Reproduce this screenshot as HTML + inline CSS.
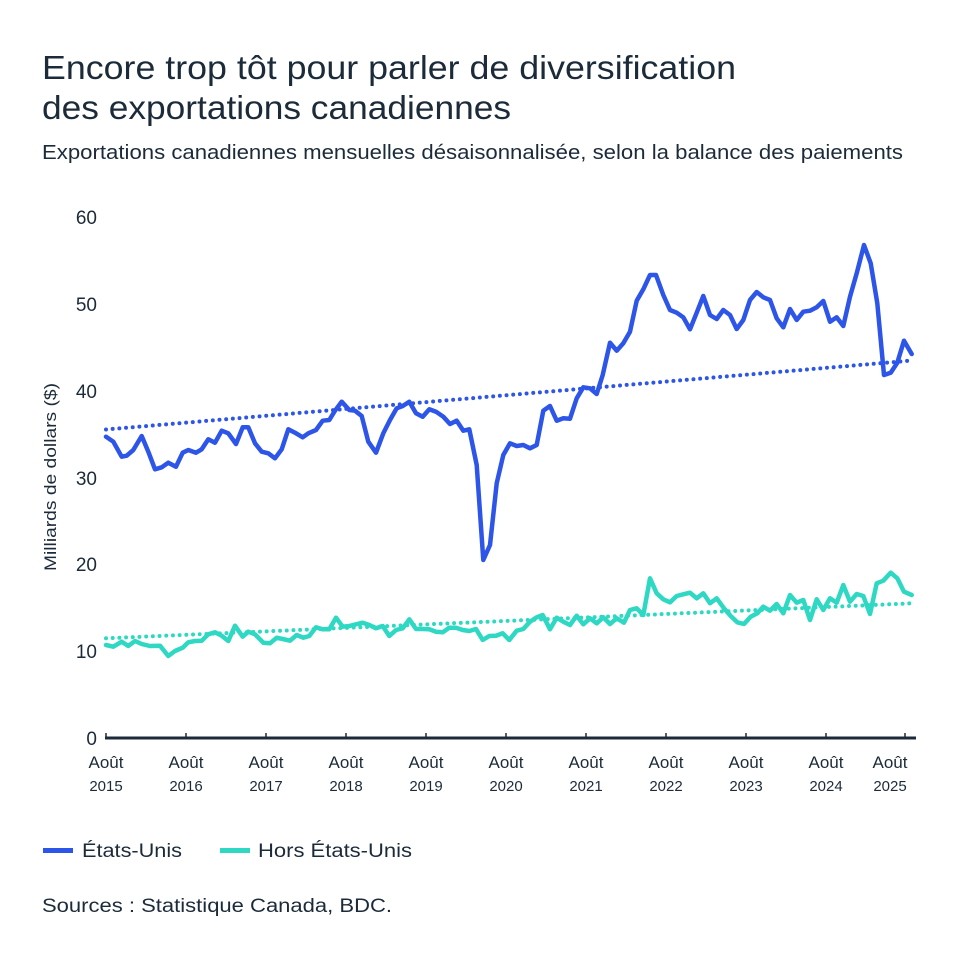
<!DOCTYPE html>
<html>
<head>
<meta charset="utf-8">
<style>
html,body{margin:0;padding:0;background:#fff;}
svg{display:block;}
text{font-family:"Liberation Sans",sans-serif;fill:#1c2b39;}
</style>
</head>
<body>
<svg width="960" height="960" viewBox="0 0 960 960" xmlns="http://www.w3.org/2000/svg">
<rect width="960" height="960" fill="#fff"/>
<!-- Titles -->
<text x="42" y="79" font-size="33" textLength="694" lengthAdjust="spacingAndGlyphs">Encore trop tôt pour parler de diversification</text>
<text x="42" y="119" font-size="33" textLength="469" lengthAdjust="spacingAndGlyphs">des exportations canadiennes</text>
<text x="42" y="159" font-size="20" textLength="861" lengthAdjust="spacingAndGlyphs">Exportations canadiennes mensuelles désaisonnalisée, selon la balance des paiements</text>

<!-- Y tick labels -->
<g font-size="19" text-anchor="end">
<text x="97" y="224">60</text>
<text x="97" y="311">50</text>
<text x="97" y="398">40</text>
<text x="97" y="485">30</text>
<text x="97" y="571">20</text>
<text x="97" y="658">10</text>
<text x="97" y="745">0</text>
</g>
<!-- Y axis title -->
<text transform="translate(56,477) rotate(-90)" font-size="17" text-anchor="middle" textLength="188" lengthAdjust="spacingAndGlyphs">Milliards de dollars ($)</text>

<!-- X axis -->
<line x1="105" y1="738" x2="916" y2="738" stroke="#1c2b39" stroke-width="3"/>
<g stroke="#1c2b39" stroke-width="1.5">
<line x1="106" y1="733" x2="106" y2="738"/>
<line x1="186" y1="733" x2="186" y2="738"/>
<line x1="266" y1="733" x2="266" y2="738"/>
<line x1="346" y1="733" x2="346" y2="738"/>
<line x1="426" y1="733" x2="426" y2="738"/>
<line x1="506" y1="733" x2="506" y2="738"/>
<line x1="586" y1="733" x2="586" y2="738"/>
<line x1="666" y1="733" x2="666" y2="738"/>
<line x1="746" y1="733" x2="746" y2="738"/>
<line x1="826" y1="733" x2="826" y2="738"/>
<line x1="905" y1="733" x2="905" y2="738"/>
</g>
<g font-size="17" text-anchor="middle">
<text x="106" y="768">Août</text><text x="106" y="791" font-size="15">2015</text>
<text x="186" y="768">Août</text><text x="186" y="791" font-size="15">2016</text>
<text x="266" y="768">Août</text><text x="266" y="791" font-size="15">2017</text>
<text x="346" y="768">Août</text><text x="346" y="791" font-size="15">2018</text>
<text x="426" y="768">Août</text><text x="426" y="791" font-size="15">2019</text>
<text x="506" y="768">Août</text><text x="506" y="791" font-size="15">2020</text>
<text x="586" y="768">Août</text><text x="586" y="791" font-size="15">2021</text>
<text x="666" y="768">Août</text><text x="666" y="791" font-size="15">2022</text>
<text x="746" y="768">Août</text><text x="746" y="791" font-size="15">2023</text>
<text x="826" y="768">Août</text><text x="826" y="791" font-size="15">2024</text>
<text x="890" y="768">Août</text><text x="890" y="791" font-size="15">2025</text>
</g>

<!-- Trend lines -->
<line x1="106" y1="429.5" x2="912" y2="360.5" stroke="#2d55e8" stroke-width="4" stroke-linecap="round" stroke-dasharray="0 6.7"/>
<line x1="106" y1="638.3" x2="912" y2="603.3" stroke="#2ed8c3" stroke-width="4" stroke-linecap="round" stroke-dasharray="0 6.7"/>

<!-- US series -->
<polyline fill="none" stroke="#2d55e8" stroke-width="4.5" stroke-linejoin="round" stroke-linecap="round" points="106,436.7 113.3,441.7 121.7,456.7 126.7,455.7 133.3,450 141.7,436 148.3,451.7 155,469.3 161.7,467.3 168.3,462.7 176,466.7 182.7,452.7 188.3,450 196,452.7 201.7,449.3 208.3,439.3 215,442.7 221.7,430.7 228.3,433.3 236,444 242.7,427.3 248.3,427.3 255,443.3 261.7,451.7 268.3,453.3 275,458.3 281.7,449.3 288.3,429.3 295,432.7 302.7,437.3 308.3,433.3 316,430 322.7,420.7 329.3,420 335,410.7 341.7,401.7 349.3,410 355,410.7 361.7,416 368.3,441.7 376,452.7 383.3,433.3 390,420 396.7,408.3 402.7,406 409.3,401.7 416,413.3 422.7,416.7 429.3,409.3 436,411.7 443.3,416.7 450,424 456.7,420.7 463.3,430.7 469.3,429.3 476.7,465 483.3,560 490,545 496.7,483.3 503.3,455 510,443.3 516.7,446 523.3,445 530,448.3 536.7,445 543.3,410.7 550,406 556.7,420.7 563.3,418.3 570,418.7 576.7,398.3 583.3,387.3 590,388.3 596.7,394 602.7,375 610,342.7 616.7,350.7 623.3,343.3 630,331.7 636.7,300.7 643.3,289.3 650,275 656,275 663.3,295 670,310 676.7,312.7 683.3,317.3 690,329.3 696.7,312.7 703.3,296 710,315 716.7,319 723.3,310 730,315 736.7,329 743.3,320 750,300 756.7,292 763.3,297.3 770,300 776.7,318.3 783.3,327.3 790,309 796.7,320 803.3,311.7 810,310.7 816.7,307.3 823.3,301 830,321.7 836.7,317.3 843.3,326 850,296.7 856.7,273.3 864,245 870.7,263.3 877.3,303.3 884,375 890.7,372.7 897.3,362.7 904,340.7 911.7,354"/>

<!-- Non-US series -->
<polyline fill="none" stroke="#2ed8c3" stroke-width="4.5" stroke-linejoin="round" stroke-linecap="round" points="106,645 113.3,646.7 121.7,641.7 128.3,646 135,641 141.7,644 150,646 160,645.7 168.3,656 175,651 182.7,647.7 188.3,642.3 195,641 201.7,640.7 208.3,634.3 215,632.3 221.7,635.7 228.3,641 235,625.7 242.7,636.7 248.3,631.7 255,634.3 263.3,642.7 270,643.3 276.7,637.7 282.7,639 290,640.7 296.7,635 303.3,637.7 309.3,636 316,627.3 322.7,629.3 329.3,629.3 336,617.7 342.7,626.7 349.3,626 356,624.3 362.7,622.7 369.3,625 376,628.3 382.7,626 389.3,636 396,630 402.7,628.3 409.3,619.3 416,629 422.7,629 429.3,629.3 436,631.7 442.7,632.3 449.3,627.7 456,627.7 462.7,630 469.3,631 476,629 482.7,640 489.3,636 496,635.7 502.7,633.3 509.3,640 516.7,630.7 523.3,629 530,621.7 536.7,617.3 542.7,615 550,629.3 556.7,617.7 563.3,621.7 570,625 576.7,615.7 583.3,624.3 590,618.3 596.7,623.3 603.3,617.3 610,624 616.7,618.3 624,622.7 630,610 636.7,608.3 643.3,615 650,578.3 656.7,593.3 663.3,599.3 670,602.3 676.7,596 683.3,594.3 690,592.7 696.7,598.3 703.3,593.3 710,603.3 716.7,598.3 724,608.3 730.7,616 737.3,622.3 744,624 750.7,616.7 757.3,613.3 763.3,606.7 770,610.7 776.7,604 783.3,613.3 790,595 796.7,602.7 803.3,600 810,620 816.7,599.3 823.3,610 830,598.3 836.7,602.7 843.3,585 850,601.7 856.7,594 863.3,596 870,614 876.7,583.3 883.3,580.7 890.7,572.7 897.3,578.3 904,591.7 911.7,595"/>

<!-- Legend -->
<line x1="43" y1="850.5" x2="73" y2="850.5" stroke="#2d55e8" stroke-width="5"/>
<text x="82" y="857" font-size="19" textLength="100" lengthAdjust="spacingAndGlyphs">États-Unis</text>
<line x1="220" y1="850.5" x2="250" y2="850.5" stroke="#2ed8c3" stroke-width="5"/>
<text x="258" y="857" font-size="19" textLength="154" lengthAdjust="spacingAndGlyphs">Hors États-Unis</text>

<!-- Sources -->
<text x="42" y="912" font-size="19" textLength="350" lengthAdjust="spacingAndGlyphs">Sources : Statistique Canada, BDC.</text>
</svg>
</body>
</html>
